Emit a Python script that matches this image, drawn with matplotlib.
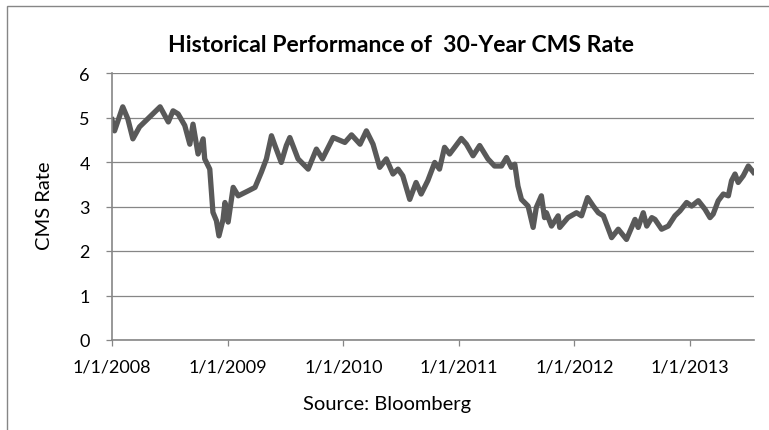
import numpy as np
import matplotlib
matplotlib.use("Agg")
import matplotlib.pyplot as plt
from matplotlib.patches import Rectangle

# Datos (fecha, tasa CMS 30 anios)
fechas = [
    "2008-01-01", "2008-01-09", "2008-02-04", "2008-02-20", "2008-03-07", "2008-03-28",
    "2008-04-23", "2008-06-01", "2008-06-27", "2008-07-12", "2008-07-28", "2008-08-18",
    "2008-09-03", "2008-09-13", "2008-09-29", "2008-10-15", "2008-10-20", "2008-11-05",
    "2008-11-15", "2008-11-26", "2008-12-04", "2008-12-17", "2008-12-23", "2009-01-02",
    "2009-01-18", "2009-02-03", "2009-03-06", "2009-03-28", "2009-04-17", "2009-05-03",
    "2009-05-19", "2009-05-30", "2009-06-19", "2009-07-05", "2009-07-16", "2009-08-11",
    "2009-09-12", "2009-10-08", "2009-10-27", "2009-11-30", "2010-01-06", "2010-01-27",
    "2010-02-23", "2010-03-15", "2010-04-05", "2010-04-26", "2010-05-17", "2010-06-07",
    "2010-06-23", "2010-07-08", "2010-07-30", "2010-08-19", "2010-09-04", "2010-09-25",
    "2010-10-17", "2010-11-01", "2010-11-17", "2010-12-03", "2010-12-19", "2011-01-09",
    "2011-01-25", "2011-02-15", "2011-03-08", "2011-04-03", "2011-04-24", "2011-05-16",
    "2011-06-01", "2011-06-16", "2011-06-27", "2011-07-07", "2011-07-18", "2011-08-08",
    "2011-08-24", "2011-09-03", "2011-09-19", "2011-09-29", "2011-10-05", "2011-10-21",
    "2011-11-11", "2011-11-16", "2011-12-12", "2012-01-08", "2012-01-24", "2012-02-12",
    "2012-03-01", "2012-03-17", "2012-04-02", "2012-04-18", "2012-04-28", "2012-05-19",
    "2012-06-14", "2012-07-11", "2012-07-21", "2012-08-06", "2012-08-17", "2012-09-02",
    "2012-09-12", "2012-10-03", "2012-10-24", "2012-11-14", "2012-11-30", "2012-12-21",
    "2013-01-06", "2013-01-27", "2013-02-17", "2013-03-05", "2013-03-15", "2013-03-31",
    "2013-04-16", "2013-05-02", "2013-05-12", "2013-05-23", "2013-06-02", "2013-06-18",
    "2013-07-04", "2013-07-20",
]
tasa = [
    4.95, 4.70, 5.24, 4.97, 4.52, 4.79,
    4.97, 5.24, 4.90, 5.15, 5.08, 4.82,
    4.40, 4.85, 4.18, 4.52, 4.07, 3.84,
    2.87, 2.68, 2.34, 2.71, 3.09, 2.65,
    3.43, 3.24, 3.35, 3.43, 3.77, 4.07,
    4.59, 4.37, 3.99, 4.37, 4.55, 4.07,
    3.84, 4.29, 4.07, 4.55, 4.44, 4.61,
    4.40, 4.70, 4.40, 3.88, 4.07, 3.73,
    3.84, 3.69, 3.16, 3.54, 3.28, 3.58,
    3.99, 3.84, 4.33, 4.18, 4.33, 4.53,
    4.40, 4.14, 4.37, 4.07, 3.91, 3.91,
    4.10, 3.88, 3.95, 3.46, 3.16, 3.01,
    2.53, 2.98, 3.24, 2.75, 2.86, 2.56,
    2.79, 2.53, 2.75, 2.86, 2.79, 3.20,
    3.01, 2.86, 2.79, 2.49, 2.30, 2.49,
    2.26, 2.71, 2.53, 2.86, 2.56, 2.75,
    2.71, 2.49, 2.56, 2.79, 2.90, 3.09,
    3.01, 3.13, 2.94, 2.75, 2.83, 3.13,
    3.28, 3.24, 3.58, 3.73, 3.54, 3.69,
    3.91, 3.77,
]
ticks_x = ["2008-01-01", "2009-01-01", "2010-01-01", "2011-01-01", "2012-01-01", "2013-01-01"]
etiquetas_x = ["1/1/2008", "1/1/2009", "1/1/2010", "1/1/2011", "1/1/2012", "1/1/2013"]
ticks_y = [0, 1, 2, 3, 4, 5, 6]

plt.rcParams["font.family"] = ["Lato", "DejaVu Sans"]

t = np.array(fechas, dtype="datetime64[D]")
gris = "#868686"

fig = plt.figure(figsize=(7.69, 4.31), dpi=100)
ax = fig.add_axes([112 / 769, 1 - 341 / 431, (754 - 112) / 769, (341 - 74) / 431])

ax.plot(t, tasa, color="#595959", linewidth=3.8, solid_joinstyle="round")

ax.set_ylim(0, 6)
ax.set_yticks(ticks_y)
ax.set_xlim(np.datetime64("2008-01-01"), np.datetime64("2013-07-22"))
ax.set_xticks(np.array(ticks_x, dtype="datetime64[D]"))
ax.set_xticklabels(etiquetas_x)

ax.grid(axis="y", color=gris, linewidth=0.9)
ax.set_axisbelow(True)
for lado in ["top", "right"]:
    ax.spines[lado].set_visible(False)
for lado in ["left", "bottom"]:
    ax.spines[lado].set_color(gris)
    ax.spines[lado].set_linewidth(1.2)
ax.tick_params(axis="both", colors=gris, length=4, width=0.9, labelcolor="black",
               labelsize=13)
ax.tick_params(axis="x", pad=9)
ax.tick_params(axis="y", pad=12)

fig.text(401 / 769, 1 - 45 / 431, "Historical Performance of  30-Year CMS Rate",
         ha="center", va="center", fontsize=16.6, fontweight="bold")
fig.text(45 / 769, 1 - 206 / 431, "CMS Rate", ha="center", va="center",
         rotation=90, fontsize=14.5)
fig.text(387 / 769, 1 - 405 / 431, "Source: Bloomberg", ha="center", va="center",
         fontsize=14.5)

# Borde del area del grafico
fig.patches.append(Rectangle((7 / 769, -0.2), 1.2, 1.2 - 7 / 431,
                             transform=fig.transFigure, fill=False,
                             edgecolor=gris, linewidth=1))

plt.savefig("out.png", dpi=100)
